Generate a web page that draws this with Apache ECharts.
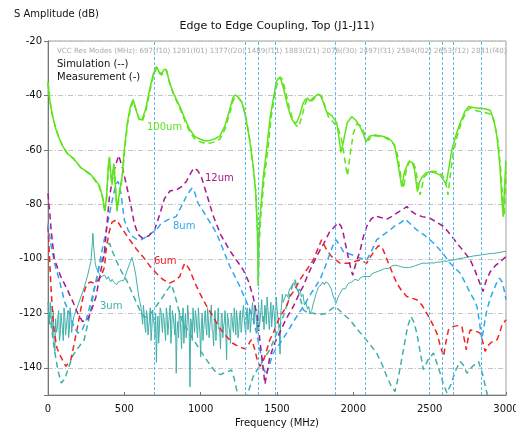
<!DOCTYPE html>
<html>
<head>
<meta charset="utf-8">
<script src="https://cdn.jsdelivr.net/npm/echarts@6/dist/echarts.min.js"></script>
<style>
  html, body { margin: 0; padding: 0; background: #fff; }
  #chart { width: 516px; height: 429px; }
</style>
</head>
<body>
<div id="chart"></div>
<script>
// Frequency axis ticks (MHz) and dB range
const freqTicks = [0, 500, 1000, 1500, 2000, 2500, 3000];
const dbTicks = [-20, -40, -60, -80, -100, -120, -140];

// VCC resonance modes (MHz)
const resModes = [697, 1291, 1377, 1489, 1883, 2076, 2497, 2584, 2653, 2841];
const resNames = ['f10', 'f01', 'f20', 'f11', 'f21', 'f30', 'f31', 'f02', 'f12', 'f40'];

// 100um spacing - measurement [MHz, dB]
const um100Meas = [[0,-35],[8,-40],[18,-44],[32,-48],[50,-52],[75,-56],[100,-59],[130,-61.5],[165,-63],[215,-66.5],[270,-68.5],[303,-70.5],[335,-73],[357,-77],[373,-82.5],[385,-76],[395,-66],[402,-62.5],[410,-68],[418,-72],[425,-68],[432,-65],[440,-72],[452,-82],[462,-78],[472,-74],[485,-70],[500,-60],[520,-50],[540,-44],[557,-41.5],[575,-45],[595,-48.5],[615,-49],[640,-45],[665,-38],[690,-32],[710,-29.4],[730,-31.5],[745,-32],[760,-30.5],[775,-30.5],[795,-35],[820,-39],[863,-44],[900,-49],[928,-52.5],[960,-55],[994,-56],[1030,-56.7],[1060,-56.5],[1090,-56],[1125,-55],[1160,-51],[1191,-45],[1210,-41],[1224,-39.8],[1245,-40.5],[1270,-42.5],[1295,-48],[1320,-56],[1344,-66],[1360,-75],[1372,-90],[1377,-110],[1382,-92],[1390,-84],[1410,-70],[1432,-60],[1455,-48],[1475,-41.5],[1495,-35],[1508,-33.7],[1525,-34],[1545,-38],[1570,-44],[1595,-48.5],[1610,-49.8],[1628,-50],[1650,-47],[1670,-43],[1685,-41.5],[1700,-41],[1716,-42],[1745,-40.5],[1770,-39.5],[1785,-40],[1800,-42],[1825,-46],[1860,-47.5],[1891,-50],[1905,-55],[1919,-61],[1935,-57],[1960,-50],[1989,-47.8],[2015,-49],[2044,-51.5],[2065,-54],[2083,-57],[2105,-55],[2142,-54.5],[2190,-55],[2230,-55.7],[2255,-57],[2273,-59],[2295,-66],[2317,-73.5],[2335,-68],[2361,-64.5],[2385,-64.5],[2400,-67],[2412,-72],[2420,-75.3],[2432,-72],[2449,-70],[2475,-68.5],[2503,-68],[2540,-68.5],[2569,-69.2],[2590,-71],[2608,-72.5],[2625,-67],[2645,-60],[2670,-55],[2700,-50],[2730,-46],[2755,-44],[2790,-44.5],[2831,-44.7],[2870,-45],[2897,-45.5],[2920,-49],[2941,-55],[2960,-66],[2975,-80],[2982,-84.5],[2990,-74],[3000,-64]];

// 100um spacing - simulation
const um100Sim = [[0,-35],[8,-40],[18,-44],[32,-48],[50,-52],[75,-56],[100,-59],[130,-61.5],[165,-63.2],[215,-66.5],[270,-68.8],[303,-70.8],[335,-73.5],[357,-77.5],[372,-83],[385,-77],[395,-67],[403,-63],[411,-69],[419,-73],[426,-69],[433,-66],[441,-73],[453,-82.5],[463,-78.5],[473,-74.5],[486,-70.5],[502,-60],[522,-50],[542,-44.5],[560,-42],[578,-45.5],[598,-49],[618,-49.5],[642,-45.5],[667,-38.5],[692,-32.5],[712,-29.8],[731,-32],[746,-32.5],[762,-31],[777,-31],[797,-35.5],[822,-39.5],[865,-45],[902,-50],[930,-53.5],[962,-56],[996,-57],[1032,-57.7],[1062,-57.5],[1092,-57],[1127,-56],[1162,-52],[1193,-46],[1212,-42],[1228,-40.5],[1250,-41],[1275,-43],[1300,-49],[1324,-57],[1346,-67],[1362,-76],[1373,-92],[1378,-110],[1384,-94],[1393,-85],[1415,-71],[1440,-60],[1462,-48],[1482,-41],[1502,-35.5],[1518,-33.2],[1535,-34],[1556,-38.5],[1582,-45],[1607,-49.5],[1625,-51],[1642,-51.5],[1662,-48],[1682,-43.5],[1697,-41.5],[1712,-41.3],[1727,-42],[1755,-40.5],[1778,-39.8],[1795,-40.5],[1812,-43.5],[1838,-48],[1872,-50],[1900,-52],[1918,-55],[1935,-60],[1950,-66],[1962,-69.5],[1978,-62],[2000,-54],[2022,-50.5],[2045,-51],[2065,-53],[2085,-55.5],[2100,-56.5],[2120,-55],[2152,-54.8],[2200,-55.3],[2240,-56.5],[2268,-58],[2290,-62],[2312,-70],[2330,-74],[2345,-68],[2368,-64],[2392,-64.5],[2408,-67],[2422,-72],[2437,-76.5],[2447,-74.5],[2462,-70],[2488,-68.5],[2515,-67.8],[2550,-68],[2580,-69],[2600,-71],[2612,-74],[2620,-76.5],[2633,-70],[2655,-61],[2680,-55],[2710,-49.5],[2740,-46],[2765,-44.5],[2800,-45.5],[2840,-46],[2880,-46.5],[2905,-47],[2925,-50],[2948,-57],[2965,-67],[2980,-79],[2988,-84],[2995,-76],[3000,-68]];

// 12um spacing - simulation
const um12Sim = [[0,-76],[10,-82],[20,-89],[41,-100],[80,-106],[128,-111.5],[165,-116],[194,-120],[226,-123],[259,-122.5],[290,-118],[314,-114],[340,-106],[369,-98],[401,-78],[430,-68],[463,-62],[490,-67],[522,-75],[545,-81],[565,-87],[590,-91],[620,-92.5],[660,-91.5],[697,-89.5],[730,-84],[762,-78],[800,-75],[841,-74.7],[875,-73.5],[907,-71.5],[935,-68.5],[955,-66.7],[980,-67.5],[1005,-70],[1038,-76],[1081,-84],[1130,-91],[1191,-97],[1235,-100.5],[1278,-104],[1315,-108.5],[1344,-114],[1370,-121],[1388,-130],[1405,-138],[1421,-146],[1437,-141],[1453,-136],[1485,-131],[1519,-127],[1560,-122],[1607,-117.5],[1640,-113.5],[1672,-110],[1705,-105.5],[1738,-101.6],[1775,-97.5],[1814,-93.6],[1845,-90],[1869,-88.7],[1902,-86.7],[1920,-88],[1934,-90.6],[1950,-95],[1967,-99.5],[1985,-104],[1996,-106],[2015,-102],[2044,-97],[2065,-92],[2088,-88],[2115,-85.5],[2142,-84.2],[2180,-84.8],[2219,-85.4],[2250,-84.5],[2284,-83.2],[2320,-82],[2350,-80.8],[2380,-82.5],[2405,-83.5],[2450,-84.5],[2503,-85.1],[2545,-86.5],[2591,-88.1],[2635,-91],[2678,-94.2],[2720,-97],[2766,-100.4],[2795,-104],[2820,-107.7],[2849,-112],[2870,-108],[2897,-104.7],[2930,-102.5],[2963,-101],[3000,-99.2]];

// 8um spacing - simulation
const um8Sim = [[0,-87],[20,-95],[45,-102],[75,-108],[110,-116],[141,-120],[170,-125],[196,-127.3],[225,-126],[251,-122.4],[285,-115],[316,-107.7],[350,-98],[382,-89.4],[415,-80],[445,-72.5],[460,-71.6],[478,-76],[500,-85.7],[525,-89.5],[555,-91.8],[585,-93],[609,-93],[640,-92],[675,-90.6],[710,-89.5],[740,-87],[790,-85.5],[839,-84.5],[880,-80],[907,-77],[930,-75],[944,-74],[960,-75.5],[983,-79.6],[1016,-82.5],[1060,-86.5],[1104,-90.6],[1150,-97],[1191,-102.8],[1225,-106.5],[1257,-110.2],[1290,-114.5],[1322,-118.7],[1345,-122.5],[1366,-127.3],[1390,-134],[1410,-140],[1430,-142.6],[1450,-139],[1475,-134.6],[1520,-131],[1563,-127.3],[1620,-122],[1672,-117.5],[1725,-112.5],[1781,-107.7],[1815,-103],[1847,-98],[1870,-94.5],[1886,-93],[1905,-94.5],[1934,-97.3],[1990,-98.5],[2044,-99.7],[2088,-100.4],[2120,-97],[2153,-93],[2200,-91],[2241,-89.4],[2280,-87.5],[2306,-86.9],[2340,-85.4],[2380,-87.5],[2416,-89.4],[2470,-91.5],[2525,-94.2],[2580,-97.5],[2634,-101.6],[2670,-103.5],[2700,-105.3],[2735,-109],[2766,-112.6],[2790,-115],[2810,-117.5],[2828,-124],[2842,-129.7],[2858,-124],[2875,-118.7],[2900,-114],[2919,-111.4],[2945,-108],[2958,-107.1],[2975,-108.5],[2990,-112],[3000,-115]];

// 6um spacing - simulation
const um6Sim = [[0,-88],[8,-97],[18,-109],[30,-120],[41,-127],[60,-133],[84,-136],[117,-139.5],[150,-137],[172,-131],[194,-124.8],[210,-120],[226,-115],[243,-111],[259,-109],[280,-108.5],[303,-109],[325,-108],[347,-106.5],[370,-103],[382,-96],[401,-90],[420,-86.5],[447,-85.7],[470,-87.5],[491,-89.4],[535,-93],[580,-96.5],[622,-99.2],[665,-102.5],[710,-105.3],[750,-107.5],[797,-108.9],[830,-108],[863,-106.5],[885,-103],[896,-101.6],[910,-102.5],[928,-104],[960,-108.5],[994,-112.6],[1040,-117.5],[1081,-121.2],[1125,-125.5],[1169,-128.5],[1210,-131],[1257,-132.5],[1290,-133],[1310,-132],[1322,-130.5],[1333,-129.7],[1345,-131.5],[1355,-133.4],[1370,-137],[1388,-139.5],[1405,-138],[1421,-135.8],[1453,-129.7],[1475,-127.3],[1519,-121.2],[1563,-117.5],[1585,-113.8],[1620,-111],[1650,-107.7],[1695,-104],[1738,-100.4],[1770,-96],[1792,-93],[1810,-95],[1825,-96.7],[1858,-99.2],[1913,-101.6],[1978,-101.6],[2044,-100.4],[2088,-101.6],[2115,-99],[2142,-96.7],[2165,-95.2],[2186,-95.5],[2205,-98],[2230,-101.6],[2255,-105],[2284,-108.9],[2320,-112],[2350,-113.8],[2385,-114.5],[2416,-115],[2450,-117],[2481,-120],[2515,-123.5],[2547,-127.3],[2570,-132],[2591,-135.8],[2605,-131],[2623,-126.1],[2656,-124.8],[2690,-124.5],[2711,-124.8],[2725,-129],[2740,-133.4],[2755,-128],[2766,-126.1],[2800,-126.5],[2831,-127.3],[2850,-131],[2864,-134],[2880,-132],[2897,-131],[2920,-130],[2941,-129.7],[2960,-127],[2974,-124.2],[3000,-122.4]];

// 3um spacing - simulation
const um3Sim = [[0,-116],[20,-124],[41,-133],[65,-141],[87,-145.6],[110,-144],[135,-140],[163,-135.5],[200,-132.5],[237,-129.7],[260,-124],[281,-118.7],[300,-112],[314,-108.9],[335,-103],[360,-99],[385,-95.5],[403,-94.2],[420,-97],[450,-101],[480,-104.5],[513,-107.7],[555,-113],[600,-118.7],[631,-121.5],[660,-121],[700,-118],[740,-115],[780,-111.5],[808,-109.5],[830,-113],[855,-118.5],[885,-123.6],[940,-128.5],[994,-133.4],[1050,-138],[1104,-142],[1130,-142.5],[1150,-142],[1175,-141.5],[1202,-140.8],[1220,-144],[1235,-148],[1260,-152],[1300,-151],[1344,-143.2],[1400,-138],[1453,-133.4],[1500,-127],[1541,-121.2],[1575,-115],[1600,-110],[1617,-107.7],[1640,-112],[1672,-118.7],[1705,-120],[1738,-120],[1780,-120.5],[1825,-120],[1855,-118.5],[1880,-117.5],[1930,-120],[1978,-122.4],[2020,-125.5],[2066,-128.5],[2110,-131.5],[2153,-134.6],[2190,-139],[2219,-143.2],[2250,-147],[2273,-148.7],[2300,-142],[2328,-133.4],[2355,-125],[2377,-121.2],[2395,-123],[2416,-127.3],[2440,-135],[2459,-140.7],[2490,-137],[2525,-134.6],[2545,-138],[2569,-142],[2590,-146],[2613,-149.3],[2640,-146],[2670,-141],[2700,-137.7],[2720,-139],[2744,-142],[2780,-139.5],[2820,-137.7],[2845,-142],[2875,-149.3],[2890,-152],[2920,-156]];

// 3um spacing - measurement, main sweep
const um3Meas = [[0,-118],[10,-124],[20,-120],[30,-127],[40,-131],[50,-122],[60,-126],[70,-119],[80,-128],[90,-123],[100,-130],[110,-121],[120,-125],[130,-119],[140,-126],[150,-121],[160,-124],[170,-121],[180,-119.5],[190,-118],[200,-116.5],[215,-114],[228,-112],[240,-110],[250,-108],[260,-106],[270,-103.5],[281,-101],[288,-96],[294,-90.6],[300,-96],[308,-101],[315,-103],[325,-104.5],[336,-105],[348,-106.5],[360,-107],[372,-106],[385,-107.5],[395,-106.5],[410,-108.5],[420,-107.5],[430,-108.5],[440,-108],[450,-109.5],[460,-108.5],[470,-109],[480,-108],[495,-108],[508,-106],[520,-104],[530,-102.5],[540,-101],[550,-99.5],[557,-99],[565,-103],[575,-106],[585,-110],[595,-114],[610,-118],[620,-124],[630,-120],[640,-127],[650,-121],[660,-125],[670,-118],[680,-126],[690,-122],[700,-129],[710,-138],[720,-121],[730,-125],[740,-119],[750,-127],[760,-122],[770,-130],[780,-120],[790,-124],[800,-117],[810,-126],[820,-121],[830,-128],[840,-142],[850,-123],[860,-119],[870,-127],[880,-122],[890,-131],[900,-120],[910,-125],[920,-121],[930,-147],[940,-124],[950,-118],[960,-127],[970,-121],[980,-129],[990,-123],[1000,-136],[1010,-120],[1020,-126],[1030,-119],[1040,-128],[1050,-122],[1060,-125],[1070,-117],[1080,-127],[1090,-121],[1100,-130],[1110,-123],[1120,-126],[1130,-133],[1140,-120],[1150,-125],[1160,-119],[1170,-137],[1180,-122],[1190,-127],[1200,-120],[1210,-125],[1220,-118],[1230,-128],[1240,-122],[1250,-126],[1260,-119],[1270,-124],[1280,-117],[1290,-125],[1300,-120],[1310,-126],[1320,-118],[1330,-123],[1340,-116],[1350,-124],[1360,-119],[1370,-127],[1380,-117],[1390,-122],[1400,-115],[1410,-121],[1420,-117],[1430,-124],[1440,-118],[1450,-126],[1460,-116],[1470,-121],[1480,-119],[1490,-128],[1500,-118],[1510,-124],[1520,-135],[1530,-117],[1540,-116],[1550,-114.5],[1560,-113],[1570,-114],[1580,-111.5],[1590,-110.5],[1600,-109.5],[1610,-108.5],[1618,-110],[1625,-109.5],[1640,-112],[1650,-111],[1660,-114],[1670,-113],[1680,-117],[1690,-116],[1700,-118.5],[1708,-117.5],[1715,-120],[1727,-119],[1740,-116],[1748,-114.5],[1755,-113],[1762,-112],[1770,-110.5],[1780,-110],[1790,-109.5],[1800,-108.5],[1810,-109.5],[1820,-108.5],[1836,-109],[1845,-110],[1855,-111],[1862,-112.5],[1870,-114],[1878,-115],[1885,-116.5],[1892,-115.5],[1900,-114],[1910,-113],[1920,-112],[1930,-111],[1940,-110.5],[1948,-111],[1957,-110],[1968,-109],[1980,-109.5],[1990,-108.5],[2000,-108.5],[2010,-107.5],[2022,-107.5],[2034,-108],[2045,-107],[2055,-107.5],[2065,-106.5],[2078,-107],[2090,-106.5],[2100,-106],[2110,-106.5],[2120,-105.5],[2130,-105.8],[2142,-105],[2155,-105.2],[2165,-104.5],[2175,-104.8],[2188,-104],[2200,-104.3],[2210,-103.5],[2220,-103.2],[2230,-103.6],[2241,-103],[2253,-102.6],[2265,-103],[2275,-102.3],[2285,-102.2],[2296,-102.6],[2306,-102.4],[2318,-103],[2330,-102.7],[2340,-103.2],[2350,-102.5],[2360,-103.2],[2370,-103.5],[2382,-103],[2394,-103.2],[2407,-102.5],[2420,-102.8],[2432,-102],[2445,-102.2],[2455,-101.6],[2465,-101.9],[2481,-101.6],[2493,-101.2],[2505,-101.5],[2518,-101],[2530,-101.5],[2540,-100.9],[2550,-101.2],[2560,-100.7],[2569,-101.2],[2580,-100.6],[2590,-100.8],[2603,-100.4],[2615,-100.9],[2625,-100.3],[2635,-100.5],[2645,-100],[2656,-100.5],[2668,-99.9],[2680,-100.1],[2690,-99.6],[2700,-99.8],[2712,-99.3],[2722,-99.7],[2733,-99.1],[2744,-99.3],[2756,-98.9],[2770,-99.2],[2780,-98.7],[2790,-98.9],[2800,-98.5],[2810,-98.8],[2822,-98.4],[2831,-98.6],[2843,-98.2],[2855,-98.4],[2868,-98],[2880,-98.2],[2890,-97.8],[2900,-98],[2910,-97.7],[2919,-98],[2930,-97.6],[2940,-97.8],[2950,-97.4],[2960,-97.6],[2970,-97.3],[2980,-97.4],[2990,-97.1],[3000,-97.2]];

// 3um spacing - measurement, in-between samples of the noisy bands
const um3MeasFill = [[5,-121],[15,-116],[25,-125],[35,-119],[45,-134],[55,-127],[65,-121],[75,-130],[85,-120],[95,-126],[105,-118],[115,-128],[125,-122],[135,-129],[145,-118],[155,-127],[615,-121],[625,-117],[635,-125],[645,-119],[655,-128],[665,-122],[675,-130],[685,-119],[695,-124],[705,-120],[715,-126],[725,-131],[735,-118],[745,-124],[755,-120],[765,-126],[775,-118],[785,-128],[795,-121],[805,-131],[815,-119],[825,-124],[835,-120],[845,-127],[855,-129],[865,-121],[875,-133],[885,-118],[895,-125],[905,-129],[915,-117],[925,-126],[935,-122],[945,-130],[955,-123],[965,-119],[975,-126],[985,-118],[995,-127],[1005,-124],[1015,-130],[1025,-122],[1035,-125],[1045,-118],[1055,-129],[1065,-121],[1075,-126],[1085,-132],[1095,-119],[1105,-124],[1115,-118],[1125,-127],[1135,-121],[1145,-129],[1155,-123],[1165,-127],[1175,-120],[1185,-125],[1195,-131],[1205,-121],[1215,-127],[1225,-123],[1235,-119],[1245,-129],[1255,-121],[1265,-127],[1275,-120],[1285,-122],[1295,-128],[1305,-118],[1315,-122],[1325,-127],[1335,-119],[1345,-121],[1355,-117],[1365,-123],[1375,-120],[1385,-125],[1395,-119],[1405,-123],[1415,-126],[1425,-119],[1435,-114],[1445,-122],[1455,-120],[1465,-125],[1475,-117],[1485,-123],[1495,-114],[1505,-121],[1515,-127],[1525,-120],[1535,-113]];

const COLORS = {
  um100: '#5fe31a',
  um12: '#a8188e',
  um8: '#2ea8f0',
  um6: '#f02222',
  um3: '#3fb0a8',
  res: '#5cbcf0'
};

// full 3um measured trace, ordered by frequency
const um3MeasAll = um3Meas.concat(um3MeasFill).sort((a, b) => a[0] - b[0]);

const chart = echarts.init(document.getElementById('chart'), null, { renderer: 'canvas' });

const G = { left: 48, right: 10, top: 41, bottom: 34 };

function simLine(name, data, color) {
  return {
    name, type: 'line', data, symbol: 'none', smooth: false, animation: false,
    lineStyle: { color, width: 1.5, type: [6, 4] }, silent: true
  };
}
function measLine(name, data, color, w) {
  return {
    name, type: 'line', data, symbol: 'none', smooth: false, animation: false,
    lineStyle: { color, width: w }, silent: true
  };
}

const vccText = 'VCC Res Modes (MHz): ' + resModes.map((f, i) => f + '(' + resNames[i] + ')').join(' ');

const labelFont = '10px "DejaVu Sans", Verdana, sans-serif';

chart.setOption({
  animation: false,
  backgroundColor: '#fff',
  grid: {
    left: G.left, right: G.right, top: G.top, bottom: G.bottom,
    outerBoundsMode: 'none', containLabel: false,
    show: true, borderColor: '#a0a0a0', borderWidth: 1
  },
  xAxis: {
    type: 'value', min: freqTicks[0], max: freqTicks[freqTicks.length - 1], interval: 500,
    axisLine: { lineStyle: { color: '#777', width: 1 } },
    axisTick: { show: true, inside: true, length: 3, lineStyle: { color: '#777' } },
    axisLabel: { color: '#111', fontSize: 10, fontFamily: 'DejaVu Sans', margin: 9, formatter: v => String(v) },
    splitLine: { show: false }
  },
  yAxis: {
    type: 'value', min: -150, max: dbTicks[0], splitNumber: 6,
    axisLine: { show: true, lineStyle: { color: '#777', width: 1 } },
    axisTick: { show: true, inside: false, length: 4, lineStyle: { color: '#777' } },
    axisLabel: {
      color: '#111', fontSize: 10, fontFamily: 'DejaVu Sans', margin: 6,
      formatter: v => (dbTicks.indexOf(v) >= 0 ? String(v) : '')
    },
    splitLine: { show: true, lineStyle: { color: '#c4c4c4', width: 1, type: [5, 2, 1, 2] } }
  },
  series: [
    {
      name: 'VCC modes', type: 'line', data: [], silent: true, animation: false,
      markLine: {
        silent: true, symbol: ['none', 'none'], animation: false,
        label: { show: false },
        lineStyle: { color: COLORS.res, width: 1, type: [3, 2] },
        data: resModes.map(f => ({ xAxis: f }))
      }
    },
    measLine('3um meas', um3MeasAll, COLORS.um3, 1),
    simLine('3um sim', um3Sim, COLORS.um3),
    simLine('6um sim', um6Sim, COLORS.um6),
    simLine('8um sim', um8Sim, COLORS.um8),
    simLine('12um sim', um12Sim, COLORS.um12),
    simLine('100um sim', um100Sim, COLORS.um100),
    measLine('100um meas', um100Meas, COLORS.um100, 1.5)
  ],
  graphic: [
    { type: 'text', x: 14, y: 14, style: { text: 'S Amplitude (dB)', font: '10px "DejaVu Sans", sans-serif', fill: '#111', align: 'left', verticalAlign: 'middle' } },
    { type: 'text', x: 277, y: 26, style: { text: 'Edge to Edge Coupling, Top (J1-J11)', font: '11px "DejaVu Sans", sans-serif', fill: '#111', align: 'center', verticalAlign: 'middle' } },
    { type: 'text', x: 277, y: 423, style: { text: 'Frequency (MHz)', font: '10px "DejaVu Sans", sans-serif', fill: '#111', align: 'center', verticalAlign: 'middle' } },
    { type: 'text', x: 57, y: 51.5, z: 10, style: { text: vccText, font: '7.1px "DejaVu Sans", sans-serif', fill: '#aaaaaa', align: 'left', verticalAlign: 'middle' } },
    { type: 'text', x: 57, y: 64, z: 10, style: { text: 'Simulation (--)', font: labelFont, fill: '#111', align: 'left', verticalAlign: 'middle' } },
    { type: 'text', x: 57, y: 77.5, z: 10, style: { text: 'Measurement (-)', font: labelFont, fill: '#111', align: 'left', verticalAlign: 'middle' } },
    { type: 'text', x: 147, y: 127.5, z: 10, style: { text: '100um', font: labelFont, fill: COLORS.um100, align: 'left', verticalAlign: 'middle' } },
    { type: 'text', x: 205, y: 178, z: 10, style: { text: '12um', font: labelFont, fill: COLORS.um12, align: 'left', verticalAlign: 'middle' } },
    { type: 'text', x: 173, y: 226.7, z: 10, style: { text: '8um', font: labelFont, fill: COLORS.um8, align: 'left', verticalAlign: 'middle' } },
    { type: 'text', x: 154, y: 261.7, z: 10, style: { text: '6um', font: labelFont, fill: COLORS.um6, align: 'left', verticalAlign: 'middle' } },
    { type: 'text', x: 100, y: 306.7, z: 10, style: { text: '3um', font: labelFont, fill: COLORS.um3, align: 'left', verticalAlign: 'middle' } }
  ]
});
</script>
</body>
</html>
